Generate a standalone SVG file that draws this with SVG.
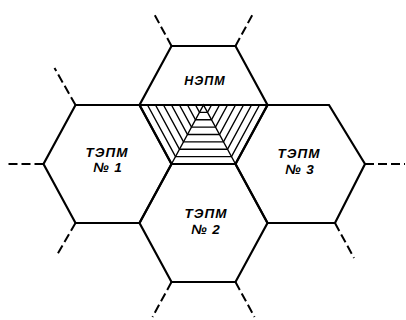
<svg xmlns="http://www.w3.org/2000/svg" width="406" height="320" viewBox="0 0 406 320">
<style>
.hex{fill:none;stroke:#000;stroke-width:2.2;stroke-linejoin:miter}
.hatch{fill:none;stroke:#000;stroke-width:1.4}
.dash{fill:none;stroke:#000;stroke-width:2;stroke-dasharray:9 4}
.lbl{font-family:"Liberation Sans",Arial,sans-serif;font-style:italic;font-weight:bold;font-size:13.5px;letter-spacing:1px;text-anchor:middle;fill:#000}
</style>
<rect width="406" height="320" fill="#fff"/>
<g id="connectors">
<line class="dash" x1="171.5" y1="46" x2="153.4" y2="12.6"/>
<line class="dash" x1="235.5" y1="46" x2="253.6" y2="12.6"/>
<line class="dash" x1="75.5" y1="105" x2="54.5" y2="68"/>
<line class="dash" x1="43.5" y1="164" x2="8" y2="164"/>
<line class="dash" x1="75.5" y1="223" x2="57" y2="255"/>
<line class="dash" x1="171.5" y1="282" x2="152.5" y2="317"/>
<line class="dash" x1="235.5" y1="282" x2="254.5" y2="317"/>
<line class="dash" x1="335" y1="223" x2="354" y2="258"/>
<line class="dash" x1="365" y1="164" x2="405" y2="164"/>
</g>
<g id="nepm">
<polygon class="hex" points="171.5,46 235.5,46 267.5,105 235.5,164 171.5,164 139.5,105"/>
<line class="hex" x1="139.5" y1="105" x2="267.5" y2="105"/>
<g class="hatch">
<path d="M171.5,164 L203.5,105 L235.5,164"/>
<path d="M147.5,105 L175.5,156.6 L231.5,156.6 L259.5,105"/>
<path d="M155.5,105 L179.5,149.3 L227.5,149.3 L251.5,105"/>
<path d="M163.5,105 L183.5,141.9 L223.5,141.9 L243.5,105"/>
<path d="M171.5,105 L187.5,134.5 L219.5,134.5 L235.5,105"/>
<path d="M179.5,105 L191.5,127.1 L215.5,127.1 L227.5,105"/>
<path d="M187.5,105 L195.5,119.8 L211.5,119.8 L219.5,105"/>
<path d="M195.5,105 L199.5,112.4 L207.5,112.4 L211.5,105"/>
</g>
<text class="lbl" x="205" y="85" style="font-size:12.5px">НЭПМ</text>
</g>
<g id="tepm1">
<polygon class="hex" points="75.5,105 139.5,105 171.5,164 139.5,223 75.5,223 43.5,164"/>
<text class="lbl" x="107" y="157">ТЭПМ</text>
<text class="lbl" x="108" y="172">№ 1</text>
</g>
<g id="tepm2">
<polygon class="hex" points="171.5,164 235.5,164 267.5,223 235.5,282 171.5,282 139.5,223"/>
<text class="lbl" x="206" y="218">ТЭПМ</text>
<text class="lbl" x="206" y="234">№ 2</text>
</g>
<g id="tepm3">
<polygon class="hex" points="267.5,105 329,105 365,164 335,223 267.5,223 235.5,164"/>
<text class="lbl" x="299" y="158">ТЭПМ</text>
<text class="lbl" x="300" y="174">№ 3</text>
</g>
</svg>
